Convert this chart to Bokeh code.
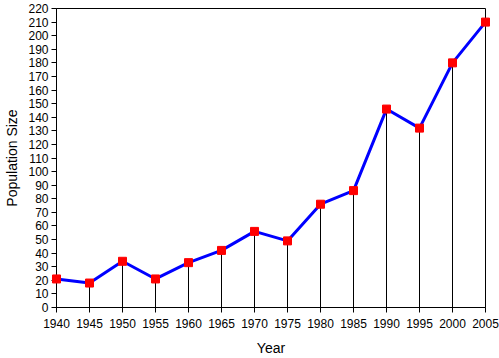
from bokeh.plotting import figure
from bokeh.models import Range1d, FixedTicker, ColumnDataSource
from bokeh.embed import file_html
from bokeh.resources import INLINE

years = [1940, 1945, 1950, 1955, 1960, 1965, 1970, 1975, 1980, 1985, 1990, 1995, 2000, 2005]
population = [21, 18, 34, 21, 33, 42, 56, 49, 76, 86, 146, 132, 180, 210]
zeros = [0] * len(years)

x_ticks = list(range(1940, 2006, 5))
y_ticks = list(range(0, 221, 10))

src = ColumnDataSource(dict(year=years, pop=population, base=zeros))

p = figure(width=499, height=358, output_backend="svg", toolbar_location=None,
           x_range=Range1d(1940, 2005), y_range=Range1d(0, 220))
p.min_border_left = 56
p.min_border_right = 14
p.min_border_top = 8
p.min_border_bottom = 50
p.background_fill_color = "white"
p.border_fill_color = "white"
p.outline_line_color = "black"
p.outline_line_width = 1
p.xgrid.visible = False
p.ygrid.visible = False

for ax in (p.xaxis[0], p.yaxis[0]):
    ax.axis_line_color = "black"
    ax.major_tick_line_color = "black"
    ax.minor_tick_line_color = None
    ax.major_tick_in = 0
    ax.major_tick_out = 5
    ax.major_label_text_font = "Liberation Sans"
    ax.major_label_text_font_size = "12px"
    ax.major_label_text_color = "black"
    ax.axis_label_text_font = "Liberation Sans"
    ax.axis_label_text_font_size = "14px"
    ax.axis_label_text_font_style = "normal"
    ax.axis_label_text_color = "black"

p.xaxis.ticker = FixedTicker(ticks=x_ticks)
p.yaxis.ticker = FixedTicker(ticks=y_ticks)
p.xaxis.axis_label = "Year"
p.yaxis.axis_label = "Population Size"
p.xaxis.major_label_standoff = 6
p.yaxis.major_label_standoff = 3
p.xaxis.axis_label_standoff = 9
p.yaxis.axis_label_standoff = 5

p.segment(x0="year", y0="base", x1="year", y1="pop", source=src, line_color="black", line_width=1)
p.line(x="year", y="pop", source=src, line_color="#0000ff", line_width=3)
r = p.scatter(x="year", y="pop", source=src, marker="square", size=8,
              fill_color="#ff0000", line_color="#ff0000")
r.level = "overlay"

open("out.html", "w").write(file_html(p, INLINE))
